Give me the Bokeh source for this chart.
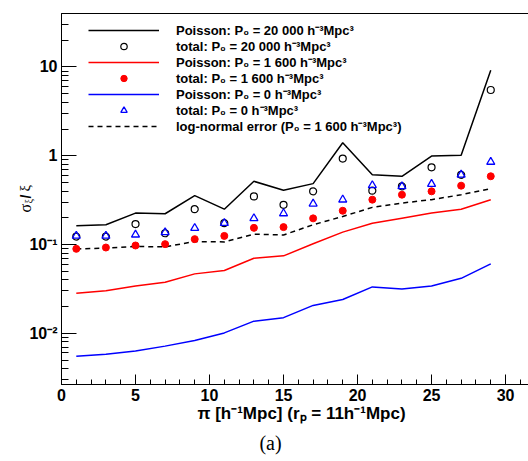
import math
from bokeh.plotting import figure
from bokeh.models import (Range1d, Legend, LegendItem, Label, SingleIntervalTicker,
                          CustomJSTickFormatter, BoxAnnotation)
from bokeh.embed import file_html
from bokeh.resources import INLINE

# ---- data ----
pi_bins = [1, 3, 5, 7, 9, 11, 13, 15, 17, 19, 21, 23, 25, 27, 29]
poisson_20000 = [0.163, 0.167, 0.226, 0.222, 0.355, 0.25, 0.515, 0.408, 0.485, 1.40,
                 0.61, 0.586, 0.99, 1.01, 9.2]
total_20000 = [0.123, 0.123, 0.17, 0.134, 0.25, 0.174, 0.348, 0.28, 0.397, 0.93,
               0.404, 0.452, 0.741, 0.61, 5.5]
poisson_1600 = [0.0282, 0.0302, 0.0341, 0.0375, 0.0467, 0.051, 0.070, 0.0745, 0.102, 0.138,
                0.174, 0.198, 0.226, 0.25, 0.32]
total_1600 = [0.0894, 0.0925, 0.0975, 0.101, 0.115, 0.125, 0.154, 0.157, 0.197, 0.24,
              0.32, 0.364, 0.397, 0.46, 0.587]
poisson_0 = [0.00552, 0.00582, 0.0063, 0.00717, 0.0083, 0.0101, 0.0137, 0.015, 0.0206, 0.024,
             0.0333, 0.0316, 0.0341, 0.0416, 0.0605]
total_0 = [0.125, 0.125, 0.129, 0.137, 0.153, 0.174, 0.197, 0.224, 0.288, 0.32,
           0.464, 0.452, 0.48, 0.61, 0.851]
lognormal_1600 = [0.089, 0.091, 0.095, 0.094, 0.108, 0.107, 0.131, 0.128, 0.167, 0.207,
                  0.262, 0.293, 0.32, 0.364, 0.426]

legend_labels = [
    "Poisson: P\u2080 = 20 000 h\u207b\u00b3Mpc\u00b3",
    "total: P\u2080 = 20 000 h\u207b\u00b3Mpc\u00b3",
    "Poisson: P\u2080 = 1 600 h\u207b\u00b3Mpc\u00b3",
    "total: P\u2080 = 1 600 h\u207b\u00b3Mpc\u00b3",
    "Poisson: P\u2080 = 0 h\u207b\u00b3Mpc\u00b3",
    "total: P\u2080 = 0 h\u207b\u00b3Mpc\u00b3",
    "log-normal error (P\u2080 = 1 600 h\u207b\u00b3Mpc\u00b3)",
]
x_title = "\u03c0 [h\u207b\u00b9Mpc] (r\u209a = 11h\u207b\u00b9Mpc)"
caption = "(a)"

# plotting box (data limits of the drawn axes)
X_MIN, X_MAX = 0.0, 31.55
Y_MIN, Y_MAX = 0.00265, 40.0

# canvas and margins (px) around the plotting box
W, H = 528, 461
ML, MT, MR, MB = 61, 13, 0, 77

xpx = (W - ML - MR) / (X_MAX - X_MIN)
x_lo, x_hi = X_MIN - ML / xpx, X_MAX + MR / xpx
ylog_min, ylog_max = math.log10(Y_MIN), math.log10(Y_MAX)
ypx = (H - MT - MB) / (ylog_max - ylog_min)
y_lo, y_hi = 10 ** (ylog_min - MB / ypx), 10 ** (ylog_max + MT / ypx)


def cx2x(cx):
    return x_lo + cx / xpx


def cy2y(cy):
    return 10 ** (math.log10(y_hi) - cy / ypx)


p = figure(width=W, height=H, x_range=Range1d(x_lo, x_hi),
           y_range=Range1d(y_lo, y_hi), y_axis_type="log",
           output_backend="svg", toolbar_location=None,
           min_border_left=0, min_border_right=0,
           min_border_top=0, min_border_bottom=0)
p.xgrid.visible = False
p.ygrid.visible = False
p.outline_line_color = None
p.background_fill_color = "white"
p.border_fill_color = "white"

FONT = "Liberation Sans"

p.xaxis.ticker = SingleIntervalTicker(interval=5, num_minor_ticks=5)
p.xaxis.fixed_location = Y_MIN
p.yaxis.fixed_location = X_MIN
p.xaxis.bounds = (X_MIN, X_MAX)
p.yaxis.bounds = (Y_MIN, Y_MAX)
for ax in (p.xaxis[0], p.yaxis[0]):
    ax.major_tick_out = 0
    ax.minor_tick_out = 0
    ax.axis_line_color = "black"
    ax.major_tick_line_color = "black"
    ax.minor_tick_line_color = "black"
    ax.major_label_text_font = FONT
    ax.major_label_text_font_style = "bold"
    ax.major_label_text_font_size = "16px"
    ax.major_label_text_color = "black"
p.xaxis.major_tick_in = 10
p.xaxis.minor_tick_in = 5
p.yaxis.major_tick_in = 15
p.yaxis.minor_tick_in = 7
p.xaxis.major_label_standoff = 4
p.yaxis.major_label_standoff = 4
p.yaxis.formatter = CustomJSTickFormatter(code="""
    const e = Math.round(Math.log10(tick));
    if (e >= 0) { return String(Math.round(tick)); }
    const sup = {'-1': '\u207b\u00b9', '-2': '\u207b\u00b2', '-3': '\u207b\u00b3'};
    return '10' + sup[String(e)];
""")

# frame box of the plotting area
p.add_layout(BoxAnnotation(left=X_MIN, right=X_MAX, bottom=Y_MIN, top=Y_MAX,
                           fill_alpha=0, line_color="black", line_width=1,
                           line_alpha=1))

r1 = p.line(pi_bins, poisson_20000, line_color="black", line_width=1.5)
r3 = p.line(pi_bins, poisson_1600, line_color="red", line_width=1.5)
r5 = p.line(pi_bins, poisson_0, line_color="blue", line_width=1.5)
r7 = p.line(pi_bins, lognormal_1600, line_color="black", line_width=1.5, line_dash="5 4")
r2 = p.scatter(pi_bins, total_20000, marker="circle", size=7, fill_color=None,
               line_color="black", line_width=1.2)
r4 = p.scatter(pi_bins, total_1600, marker="circle", size=7, fill_color="red",
               line_color="red", line_width=1)
r6 = p.scatter(pi_bins, total_0, marker="triangle", size=8, fill_color=None,
               line_color="blue", line_width=1.3)

# legend: one row per Legend so that the row pitch matches the reference
ROW0, PITCH = 28.8, 16.0
for i, (lbl, r) in enumerate(zip(legend_labels, [r1, r2, r3, r4, r5, r6, r7])):
    yc = ROW0 + PITCH * i
    lg = Legend(items=[LegendItem(label=lbl, renderers=[r])],
                location=(88, round(H - yc - 10.2)), border_line_color=None,
                background_fill_alpha=0, glyph_width=71, glyph_height=16,
                label_height=16, spacing=0, padding=0, margin=0, label_standoff=17,
                label_text_font=FONT, label_text_font_style="bold",
                label_text_font_size="13px", label_text_color="black")
    p.add_layout(lg)

# y-axis title: sigma_xi / xi (rotated)
ytitle = [
    ("\u03c3", 25, 212, "16px", "normal", "Liberation Serif"),
    ("\u03be", 28, 203, "10px", "normal", "Liberation Serif"),
    ("/", 25, 198, "14px", "bold", FONT),
    ("\u03be", 24, 191, "15px", "normal", "Liberation Serif"),
]
for txt, cx, cy, fs, st, fnt in ytitle:
    p.add_layout(Label(x=cx2x(cx), y=cy2y(cy), text=txt, angle=math.pi / 2,
                       text_align="left", text_baseline="alphabetic",
                       text_font=fnt, text_font_size=fs, text_font_style=st,
                       text_color="black"))

p.add_layout(Label(x=cx2x(301), y=cy2y(413), text=x_title,
                   text_align="center", text_baseline="alphabetic", text_font=FONT,
                   text_font_size="17px", text_font_style="bold", text_color="black"))
p.add_layout(Label(x=cx2x(270), y=cy2y(442), text=caption, text_align="center",
                   text_baseline="alphabetic", text_font="Liberation Serif",
                   text_font_size="20px", text_color="black"))

open("out.html", "w").write(file_html(p, INLINE))
